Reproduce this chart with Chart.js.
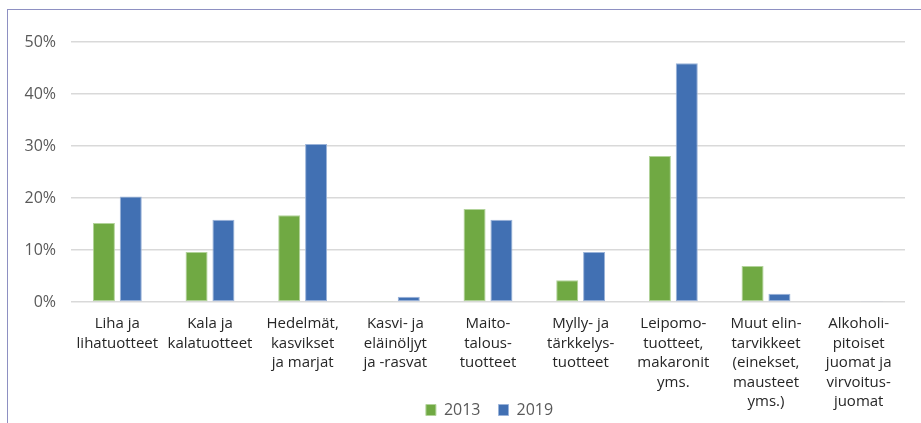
<!DOCTYPE html>
<html>
<head>
<meta charset="utf-8">
<script src="https://cdn.jsdelivr.net/npm/chart.js@4/dist/chart.umd.min.js"></script>
<style>
  html, body { margin: 0; padding: 0; background: #fff; overflow: hidden; }
  #wrap { position: relative; width: 921px; height: 428px; }
  #frame {
    position: absolute; left: 7px; top: 9px; right: 0; bottom: 0;
    border-top: 1.5px solid #8e90c2; border-left: 1.5px solid #8e90c2;
    pointer-events: none;
  }
</style>
</head>
<body>
<div id="wrap">
  <canvas id="chart"></canvas>
  <div id="frame"></div>
</div>
<script>
// Tuoteryhmät (monirivinen nimi)
const categories = [
    ['Liha ja', 'lihatuotteet'],
    ['Kala ja', 'kalatuotteet'],
    ['Hedelmät,', 'kasvikset', 'ja marjat'],
    ['Kasvi- ja', 'eläinöljyt', 'ja -rasvat'],
    ['Maito-', 'talous-', 'tuotteet'],
    ['Mylly- ja', 'tärkkelys-', 'tuotteet'],
    ['Leipomo-', 'tuotteet,', 'makaronit', 'yms.'],
    ['Muut elin-', 'tarvikkeet', '(einekset,', 'mausteet', 'yms.)'],
    ['Alkoholi-', 'pitoiset', 'juomat ja', 'virvoitus-', 'juomat']
];
const seriesNames = ['2013', '2019'];
const values2013 = [15.2, 9.6, 16.7, 0.1, 17.9, 4.2, 28.1, 6.9, null];
const values2019 = [20.3, 15.8, 30.4, 1.0, 15.8, 9.6, 45.9, 1.6, 0.1];
const yTicks = [0, 10, 20, 30, 40, 50];

const FONT = '"Open Sans", sans-serif';

// x-akselin nimiöt saavat jatkua selitteen alueelle asti, selite hieman oikealle
const layoutTweaks = {
    id: 'layoutTweaks',
    afterLayout(chart) {
        chart.scales.x.bottom = chart.height;
        const lg = chart.legend;
        lg.left += 37;
        lg.right += 37;
    }
};

new Chart(document.getElementById('chart').getContext('2d'), {
    type: 'bar',
    data: {
        labels: categories,
        datasets: [{
            label: seriesNames[0],
            data: values2013,
            backgroundColor: '#70a943',
            borderColor: '#b2d39a',
            borderWidth: 1,
            borderSkipped: false
        }, {
            label: seriesNames[1],
            data: values2019,
            backgroundColor: '#4170b3',
            borderColor: '#9ab3d9',
            borderWidth: 1,
            borderSkipped: false
        }]
    },
    options: {
        responsive: true,
        maintainAspectRatio: false,
        animation: false,
        datasets: {
            bar: { categoryPercentage: 0.58, barPercentage: 0.82 }
        },
        layout: { padding: { top: 42, right: 16, left: 0, bottom: 0 } },
        plugins: {
            tooltip: { enabled: false },
            legend: {
                position: 'bottom',
                labels: {
                    boxWidth: 10,
                    boxHeight: 11,
                    padding: 18,
                    color: '#595959',
                    font: { family: FONT, size: 16 }
                }
            }
        },
        scales: {
            x: {
                grid: { display: false },
                border: { display: false },
                ticks: {
                    padding: 4,
                    maxRotation: 0,
                    autoSkip: false,
                    color: '#262626',
                    font: { family: FONT, size: 15, lineHeight: 1.3 }
                },
                afterFit: scale => { scale.height = 82; }
            },
            y: {
                min: 0,
                max: yTicks[yTicks.length - 1],
                afterBuildTicks: scale => { scale.ticks = yTicks.map(v => ({ value: v })); },
                grid: { color: '#d9d9d9', lineWidth: 1.5, drawTicks: false },
                border: { display: false },
                ticks: {
                    padding: 15,
                    color: '#595959',
                    font: { family: FONT, size: 16 },
                    callback: v => v + '%'
                },
                afterFit: scale => { scale.width = 71; }
            }
        }
    },
    plugins: [layoutTweaks]
});
</script>
</body>
</html>
